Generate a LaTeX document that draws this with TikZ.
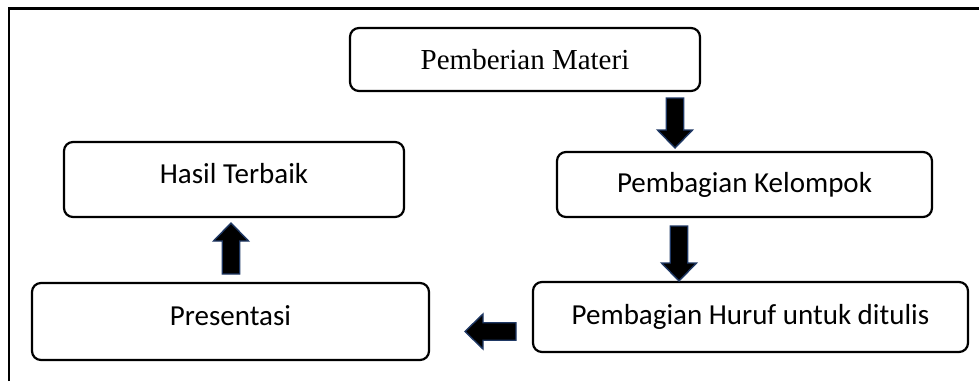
\documentclass[tikz,border=0pt]{standalone}
\usepackage{fontspec}
\setmainfont{Carlito}
\newfontfamily\timesfont{Liberation Serif}
\usetikzlibrary{calc}
\definecolor{arrowline}{HTML}{1F3864}

% block arrow from #1 to #2 (named coordinates)
\newcommand{\blockarrow}[2]{
	\coordinate (hb) at ($(#2)!18pt!(#1)$);
	\draw[line width=1.4pt, draw=arrowline, fill=black, line join=miter]
		($(#1)!8.75pt!90:(#2)$) -- ($(hb)!8.75pt!-90:(#1)$) -- ($(hb)!17.5pt!-90:(#1)$) -- (#2)
		-- ($(hb)!17.5pt!90:(#1)$) -- ($(hb)!8.75pt!90:(#1)$) -- ($(#1)!8.75pt!-90:(#2)$) -- cycle;
}

\begin{document}
\begin{tikzpicture}[x=1pt,y=-1pt]
				\tikzstyle{box}=[draw, line width=2.2pt, rounded corners=9pt, inner sep=0pt, font=\fontsize{29}{34}\selectfont]
				\tikzstyle{raised}=[text height=22pt, text depth=14pt]
				\useasboundingbox (0,0) rectangle (979,381);
				\draw[line width=2.5pt] (9,381) -- (9,8.5) -- (979,8.5);
				\node[box, minimum width=350pt, minimum height=63pt, font=\timesfont\fontsize{29}{34}\selectfont] (materi) at (525,59.5) {Pemberian Materi};
				\node[box, minimum width=375pt, minimum height=65pt] (kelompok) at (744.5,184.5) {Pembagian Kelompok};
				\node[box, minimum width=435pt, minimum height=70pt] (huruf) at (750.5,317) {Pembagian Huruf untuk ditulis};
				\node[box, raised, minimum width=397pt, minimum height=77pt] (presentasi) at (230.5,321.5) {Presentasi};
				\node[box, raised, minimum width=340pt, minimum height=75pt] (hasil) at (234,179.5) {Hasil Terbaik};
				\coordinate (a1s) at (675,98);
				\coordinate (a1e) at (675,148);
				\coordinate (a2s) at (679,226);
				\coordinate (a2e) at (679,281);
				\coordinate (a3s) at (516,331.5);
				\coordinate (a3e) at (465,331.5);
				\coordinate (a4s) at (231,274);
				\coordinate (a4e) at (231,223);
				\blockarrow{a1s}{a1e}
				\blockarrow{a2s}{a2e}
				\blockarrow{a3s}{a3e}
				\blockarrow{a4s}{a4e}
\end{tikzpicture}
\end{document}
